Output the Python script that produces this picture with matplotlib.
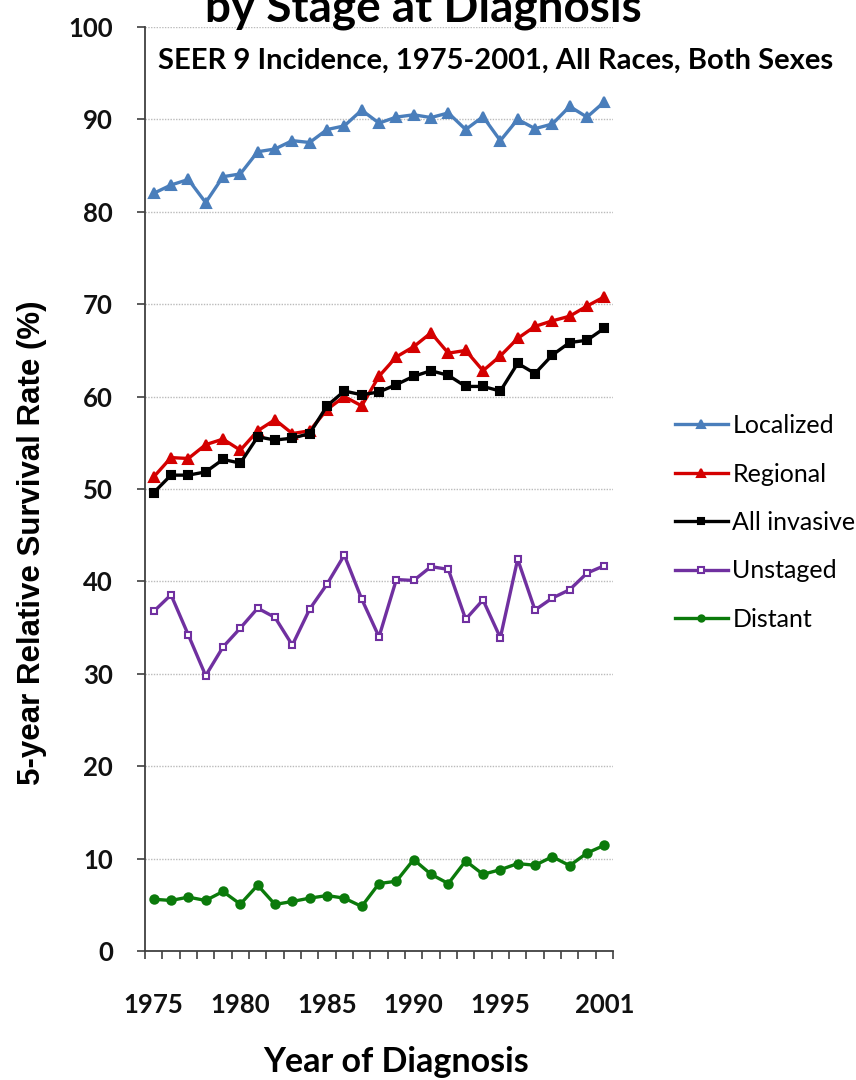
import matplotlib
matplotlib.use('Agg')
import matplotlib.pyplot as plt
from matplotlib.ticker import FixedLocator, MultipleLocator

# 5-year relative survival by stage, SEER 9, 1975-2001
years = list(range(1975, 2002))

localized = [82.0, 82.9, 83.5, 81.0, 83.8, 84.1, 86.5, 86.8, 87.7, 87.5,
             88.9, 89.3, 91.0, 89.6, 90.25, 90.5, 90.2, 90.7, 88.9, 90.3,
             87.7, 90.0, 89.0, 89.5, 91.4, 90.25, 91.9]
regional = [51.3, 53.4, 53.3, 54.8, 55.4, 54.2, 56.3, 57.5, 56.0, 56.3,
            58.6, 60.0, 59.0, 62.2, 64.3, 65.4, 66.9, 64.7, 65.0, 62.8,
            64.4, 66.3, 67.6, 68.2, 68.7, 69.8, 70.8]
all_invasive = [49.6, 51.5, 51.5, 51.85, 53.2, 52.8, 55.65, 55.3, 55.5, 56.0,
                59.0, 60.6, 60.2, 60.5, 61.3, 62.2, 62.8, 62.3, 61.1, 61.1,
                60.6, 63.6, 62.5, 64.5, 65.85, 66.1, 67.4]
unstaged = [36.75, 38.55, 34.2, 29.8, 32.9, 34.95, 37.1, 36.1, 33.1, 37.0,
            39.7, 42.85, 38.1, 34.0, 40.2, 40.1, 41.6, 41.3, 35.9, 38.0,
            33.9, 42.4, 36.9, 38.2, 39.1, 40.9, 41.7]
distant = [5.6, 5.47, 5.83, 5.47, 6.44, 5.07, 7.12, 5.04, 5.36, 5.72,
           6.0, 5.72, 4.82, 7.3, 7.55, 9.9, 8.3, 7.3, 9.75, 8.3,
           8.8, 9.46, 9.28, 10.2, 9.24, 10.6, 11.44]

xtick_years = [1975, 1980, 1985, 1990, 1995, 2001]

BOLD = 'Lato'
W, H = 856, 1080

fig = plt.figure(figsize=(W / 100, H / 100), dpi=100)
ax = fig.add_axes([145 / W, 1 - 951 / H, 468 / W, 924 / H])

series = [
    ('Localized', localized, '#4A7EBB', '^', '#4A7EBB', 7),
    ('Regional', regional, '#D40000', '^', '#D40000', 7),
    ('All invasive', all_invasive, '#000000', 's', '#000000', 6),
    ('Unstaged', unstaged, '#7030A0', 's', 'white', 5),
    ('Distant', distant, '#0B7A0B', 'o', '#0B7A0B', 6),
]

handles = []
for name, vals, col, mk, face, ms in series:
    ln, = ax.plot(years, vals, color=col, lw=2.4, marker=mk, markersize=ms,
                  markerfacecolor=face, markeredgecolor=col, markeredgewidth=1.5,
                  label=name)
    handles.append(ln)

ax.set_xlim(1974.5, 2001.5)
ax.set_ylim(0, 100)

# y axis: ticks every 10, dotted gridlines
ax.yaxis.set_major_locator(MultipleLocator(10))
for v in range(10, 101, 10):
    ax.axhline(v, color='#BBBBBB', lw=1.0, ls=(0, (1, 1)), zorder=0)

# x axis: category boundaries as ticks, labels at selected years
ax.xaxis.set_major_locator(FixedLocator(xtick_years))
ax.xaxis.set_minor_locator(FixedLocator([y + 0.5 for y in range(1974, 2002)]))
ax.tick_params(axis='x', which='major', length=0, pad=30)
ax.tick_params(axis='x', which='minor', length=6, width=1.2, direction='out',
               color='#404040')
ax.tick_params(axis='y', which='major', length=6, width=1.2, direction='out',
               color='#404040', pad=17)

for lbl in ax.get_xticklabels() + ax.get_yticklabels():
    lbl.set_fontfamily(BOLD)
    lbl.set_fontweight('bold')
    lbl.set_fontsize(18.5)
    lbl.set_color('#111111')

for side in ('top', 'right'):
    ax.spines[side].set_visible(False)
for side in ('left', 'bottom'):
    ax.spines[side].set_color('#404040')
    ax.spines[side].set_linewidth(1.3)

# titles and axis labels
fig.text(423 / W, 1 - 21 / H, 'by Stage at Diagnosis', ha='center',
         va='baseline', fontsize=33, fontweight='bold', family=BOLD)
fig.text(496 / W, 1 - 61 / H, 'SEER 9 Incidence, 1975-2001, All Races, Both Sexes',
         ha='center', va='center', fontsize=21, fontweight='bold', family=BOLD)
fig.text(396 / W, 1 - 1062 / H, 'Year of Diagnosis', ha='center', va='center',
         fontsize=24.5, fontweight='bold', family=BOLD)
fig.text(32 / W, 1 - 543 / H, '5-year Relative Survival Rate (%)', ha='center',
         va='center', rotation=90, fontsize=22.5, fontweight='bold',
         family='Liberation Sans')

fig.legend(handles=handles, loc='upper left',
           bbox_to_anchor=(675 / W, 1 - 414 / H), frameon=False,
           borderaxespad=0, borderpad=0,
           prop={'family': 'Lato', 'size': 18}, handlelength=2.1,
           handletextpad=0.2, labelspacing=1.02, markerscale=0.75)

fig.savefig('out.png', dpi=100)
